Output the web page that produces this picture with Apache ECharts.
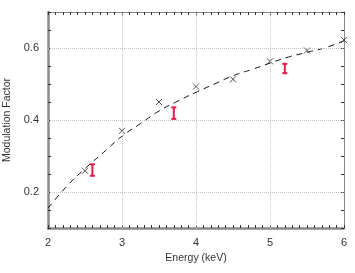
<!DOCTYPE html>
<html><head><meta charset="utf-8">
<script src="https://cdn.jsdelivr.net/npm/echarts@6/dist/echarts.min.js"></script>
<style>html,body{margin:0;padding:0;background:#fff}#c{width:355px;height:273px}</style>
</head><body><div id="c"></div>
<script>
// Measured modulation factor (crosses)
const energies = [2.5, 3.0, 3.5, 4.0, 4.5, 5.0, 5.5, 6.0];
const modFactor = [0.259, 0.37, 0.45, 0.493, 0.513, 0.563, 0.593, 0.622];
// Fitted dashed curve
const curveE = [2.0, 2.25, 2.5, 2.75, 3.0, 3.25, 3.5, 3.75, 4.0, 4.25, 4.5, 4.75, 5.0, 5.25, 5.5, 5.75, 6.0];
const curveM = [0.155, 0.215, 0.265, 0.31, 0.355, 0.39, 0.425, 0.452, 0.477, 0.50, 0.523, 0.54, 0.558, 0.575, 0.588, 0.601, 0.62];
// Red error bars
const errE = [2.6, 3.7, 5.2];
const errLow = [0.245, 0.403, 0.530];
const errHigh = [0.277, 0.435, 0.556];
// Grid lines / ticks
const xGrid = [3, 4, 5];
const yGrid = [0.2, 0.4, 0.6];
const yLabels = [0.2, 0.4, 0.6];

const font = 'Liberation Sans, Arial, sans-serif';
const chart = echarts.init(document.getElementById('c'), null, {renderer: 'canvas'});
const axisGray = '#8a8a8a';
const tickColor = '#333';
const gridStyle = {color: '#c4c4c4', type: [1, 1], width: 1};

chart.setOption({
  animation: false,
  grid: {left: 48, right: 11, top: 12, bottom: 45, containLabel: false, outerBoundsMode: 'none'},
  xAxis: [{
    type: 'value', min: 2, max: 6, interval: 1,
    name: 'Energy (keV)', nameLocation: 'middle', nameGap: 22,
    nameTextStyle: {fontFamily: font, fontSize: 10.5, color: '#333'},
    axisLine: {lineStyle: {color: axisGray, width: 2.5}},
    axisTick: {inside: true, length: 3, lineStyle: {color: tickColor}},
    minorTick: {show: true, splitNumber: 10, length: 3, lineStyle: {color: tickColor}},
    axisLabel: {fontFamily: font, fontSize: 11, color: '#333', margin: 9},
    splitLine: {show: false}
  }, {
    type: 'value', min: 2, max: 6, interval: 1, position: 'top',
    axisLine: {show: true, lineStyle: {color: axisGray, width: 1}},
    axisTick: {inside: true, length: 3, lineStyle: {color: tickColor}},
    minorTick: {show: true, splitNumber: 10, length: 3, lineStyle: {color: tickColor}},
    axisLabel: {show: false}, splitLine: {show: false}
  }],
  yAxis: [{
    type: 'value', min: 0.1, max: 0.7, interval: 0.05,
    name: 'Modulation Factor', nameLocation: 'middle', nameGap: 33,
    nameTextStyle: {fontFamily: font, fontSize: 10.5, color: '#333'},
    axisLine: {show: true, lineStyle: {color: axisGray, width: 2.5}},
    axisTick: {inside: true, length: 3, lineStyle: {color: tickColor}},
    axisLabel: {fontFamily: font, fontSize: 11, color: '#333', margin: 9,
      formatter: v => { const r = Math.round(v * 100) / 100; return yLabels.some(l => Math.abs(l - r) < 1e-6) ? r.toFixed(1) : ''; }},
    splitLine: {show: false}
  }, {
    type: 'value', min: 0.1, max: 0.7, interval: 0.05, position: 'right',
    axisLine: {show: true, lineStyle: {color: axisGray, width: 1}},
    axisTick: {inside: true, length: 3, lineStyle: {color: tickColor}},
    axisLabel: {show: false}, splitLine: {show: false}
  }],
  series: [{
    type: 'line', xAxisIndex: 0, yAxisIndex: 0,
    data: curveE.map((e, i) => [e, curveM[i]]),
    smooth: true, showSymbol: false, symbol: 'none',
    lineStyle: {color: '#111', width: 1, type: [6, 5]},
    markLine: {
      silent: true, symbol: 'none', label: {show: false},
      lineStyle: gridStyle,
      data: xGrid.map(x => ({xAxis: x})).concat(yGrid.map(y => ({yAxis: y})))
    },
    z: 3
  }, {
    type: 'scatter', xAxisIndex: 0, yAxisIndex: 0,
    data: energies.map((e, i) => [e, modFactor[i]]),
    symbol: 'path://M0,0L10,10M10,0L0,10', symbolSize: 6,
    itemStyle: {color: 'rgba(0,0,0,0)', borderColor: '#222', borderWidth: 1},
    z: 4
  }, {
    type: 'custom', xAxisIndex: 0, yAxisIndex: 0,
    data: errE.map((e, i) => [e, errLow[i], errHigh[i]]),
    renderItem: (params, api) => {
      const lo = api.coord([api.value(0), api.value(1)]);
      const hi = api.coord([api.value(0), api.value(2)]);
      const w = 2.5;
      const st = {stroke: '#e8194a', lineWidth: 2};
      return {type: 'group', children: [
        {type: 'line', shape: {x1: lo[0], y1: lo[1], x2: hi[0], y2: hi[1]}, style: st},
        {type: 'line', shape: {x1: lo[0] - w, y1: lo[1], x2: lo[0] + w, y2: lo[1]}, style: st},
        {type: 'line', shape: {x1: hi[0] - w, y1: hi[1], x2: hi[0] + w, y2: hi[1]}, style: st}
      ]};
    },
    z: 5
  }]
});
</script></body></html>
